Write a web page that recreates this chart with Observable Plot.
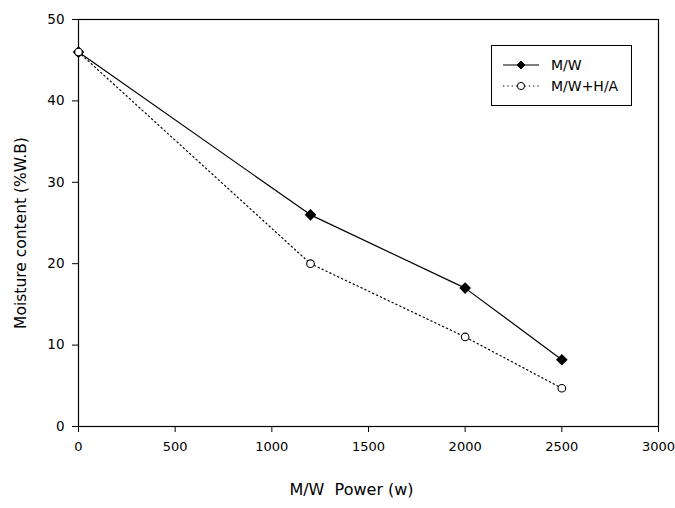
<!DOCTYPE html>
<html>
<head>
<meta charset="utf-8">
<script src="https://cdn.jsdelivr.net/npm/d3@7"></script>
<script src="https://cdn.jsdelivr.net/npm/@observablehq/plot@0.6"></script>
<style>
  html, body { margin: 0; padding: 0; background: #fff; }
  #wrap { position: relative; width: 675px; height: 508px; font-family: "DejaVu Sans", sans-serif; }
  #legend { position: absolute; left: 491px; top: 45px; width: 139px; height: 59px; border: 1px solid #000; background: #fff; }
</style>
</head>
<body>
<div id="wrap"></div>
<script>
const power = [0, 1200, 2000, 2500];
const mw = [46, 26, 17, 8.2];
const mwha = [46, 20, 11, 4.7];
const seriesNames = ["M/W", "M/W+H/A"];
const xTicks = [0, 500, 1000, 1500, 2000, 2500, 3000];
const yTicks = [0, 10, 20, 30, 40, 50];

const data = [];
power.forEach((p, i) => data.push({power: p, value: mw[i], series: seriesNames[0]}));
power.forEach((p, i) => data.push({power: p, value: mwha[i], series: seriesNames[1]}));
const s1 = data.filter(d => d.series === seriesNames[0]);
const s2 = data.filter(d => d.series === seriesNames[1]);

const chart = Plot.plot({
  width: 675,
  height: 508,
  marginLeft: 78,
  marginRight: 17,
  marginTop: 19,
  marginBottom: 82,
  style: {fontFamily: "DejaVu Sans, sans-serif", fontSize: "13px", color: "#000", background: "#fff"},
  x: {domain: [0, 3000], label: null},
  y: {domain: [0, 50], label: null},
  marks: [
    Plot.frame({stroke: "#000", strokeWidth: 1.2}),
    Plot.axisX({ticks: xTicks, tickSize: 6, tickPadding: 9, tickFormat: d3.format("d"), fontSize: 13, label: null}),
    Plot.axisY({ticks: yTicks, tickSize: 6, tickPadding: 8, tickFormat: d3.format("d"), fontSize: 13.5, label: null}),
    Plot.line(s2, {x: "power", y: "value", stroke: "#000", strokeWidth: 1.2, strokeDasharray: "1.3,3"}),
    Plot.line(s1, {x: "power", y: "value", stroke: "#000", strokeWidth: 1.2}),
    Plot.dot(s1, {x: "power", y: "value", r: 4.3, fill: "#000", stroke: "#000", symbol: "diamond2"}),
    Plot.dot(s2, {x: "power", y: "value", r: 3.8, fill: "#fff", stroke: "#000", strokeWidth: 1.1, symbol: "circle"}),
    Plot.text(["M/W  Power (w)"], {frameAnchor: "bottom", dx: -17, dy: 68, fontSize: 16}),
    Plot.text(["Moisture content (%W.B)"], {frameAnchor: "left", textAnchor: "middle", dx: -57, dy: 10, rotate: -90, fontSize: 15.5})
  ]
});
document.getElementById("wrap").appendChild(chart);

const legend = document.createElement("div");
legend.id = "legend";
const lsvg = d3.create("svg").attr("width", 139).attr("height", 59)
  .style("font-family", "DejaVu Sans, sans-serif").style("font-size", "14px");
const rows = [
  {name: seriesNames[0], y: 19, dash: null, fill: "#000", sym: d3.symbolDiamond2},
  {name: seriesNames[1], y: 40, dash: "1.3,3", fill: "#fff", sym: d3.symbolCircle}
];
rows.forEach(r => {
  lsvg.append("line").attr("x1", 11).attr("x2", 47).attr("y1", r.y).attr("y2", r.y)
    .attr("stroke", "#000").attr("stroke-width", 1.2).attr("stroke-dasharray", r.dash);
  lsvg.append("path").attr("transform", `translate(29,${r.y})`)
    .attr("d", d3.symbol(r.sym, Math.PI * 3.6 * 3.6)()).attr("fill", r.fill).attr("stroke", "#000");
  lsvg.append("text").attr("x", 59).attr("y", r.y).attr("dy", "0.35em").text(r.name);
});
legend.appendChild(lsvg.node());
document.getElementById("wrap").appendChild(legend);
</script>
</body>
</html>
